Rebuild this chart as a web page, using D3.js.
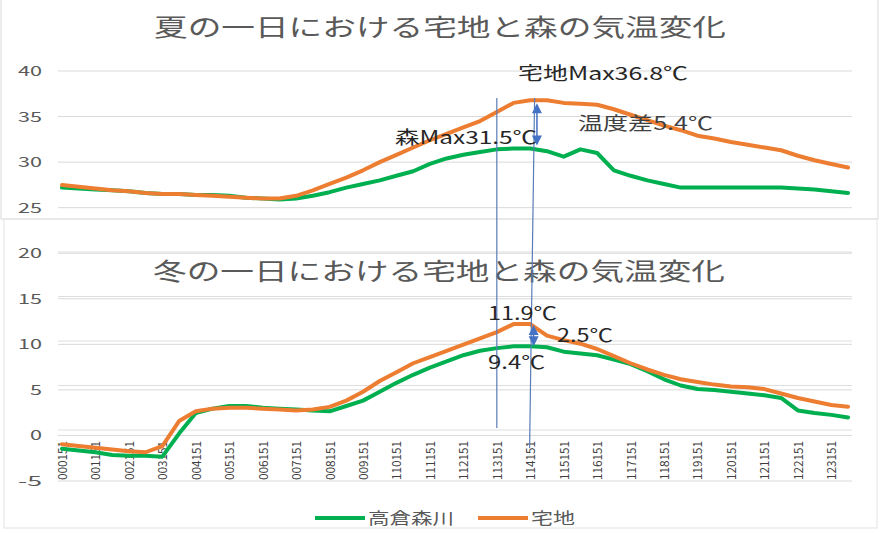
<!DOCTYPE html>
<html>
<head>
<meta charset="utf-8">
<script src="https://cdn.jsdelivr.net/npm/d3@7"></script>
<style>
  body { margin: 0; background: #fff; }
  svg { display: block; font-family: "Noto Sans CJK JP", "Noto Sans", sans-serif; }
</style>
</head>
<body>
<div id="viz"></div>
<script>
// half-hour steps through the day
const times = d3.range(0, 24, 0.5);

const summerForest = [27.2, 27.1, 27.0, 26.9, 26.8, 26.6, 26.5, 26.5, 26.4, 26.4, 26.3, 26.1,
  26.0, 25.9, 26.0, 26.3, 26.7, 27.2, 27.6, 28.0, 28.5, 29.0, 29.8, 30.4,
  30.8, 31.1, 31.4, 31.5, 31.5, 31.2, 30.6, 31.4, 31.0, 29.1, 28.5, 28.0,
  27.6, 27.2, 27.2, 27.2, 27.2, 27.2, 27.2, 27.2, 27.1, 27.0, 26.8, 26.6];

const summerHouse = [27.5, 27.3, 27.1, 26.9, 26.8, 26.6, 26.5, 26.5, 26.4, 26.3, 26.2, 26.1,
  26.0, 26.0, 26.3, 26.9, 27.6, 28.3, 29.1, 30.0, 30.8, 31.6, 32.4, 33.1,
  33.8, 34.5, 35.5, 36.5, 36.8, 36.8, 36.5, 36.4, 36.3, 35.8, 35.2, 34.6,
  34.0, 33.5, 32.9, 32.6, 32.2, 31.9, 31.6, 31.3, 30.7, 30.2, 29.8, 29.4];

const winterForest = [-2.1, -2.3, -2.5, -2.8, -2.9, -2.9, -3.0, -0.4, 1.9, 2.4, 2.7, 2.7,
  2.5, 2.4, 2.3, 2.2, 2.1, 2.7, 3.3, 4.3, 5.3, 6.2, 7.0, 7.7,
  8.4, 8.9, 9.2, 9.4, 9.4, 9.3, 8.8, 8.6, 8.4, 7.9, 7.4, 6.6,
  5.7, 5.0, 4.6, 4.5, 4.3, 4.1, 3.9, 3.6, 2.2, 1.9, 1.7, 1.4];

const winterHouse = [-1.6, -1.8, -2.0, -2.2, -2.4, -2.5, -1.8, 1.0, 2.1, 2.4, 2.5, 2.5,
  2.4, 2.3, 2.2, 2.3, 2.6, 3.3, 4.3, 5.5, 6.5, 7.5, 8.2, 8.9,
  9.6, 10.3, 11.0, 11.9, 11.9, 10.6, 10.1, 9.7, 9.1, 8.3, 7.5, 6.8,
  6.2, 5.7, 5.4, 5.1, 4.9, 4.8, 4.6, 4.1, 3.6, 3.2, 2.8, 2.6];

const hourTicks = d3.range(24);
const tickLabels = ["000151", "001151", "002151", "003151", "004151", "005151", "006151", "007151",
  "008151", "009151", "110151", "111151", "112151", "113151", "114151", "115151",
  "116151", "117151", "118151", "119151", "120151", "121151", "122151", "123151"];

const summerTicks = [40, 35, 30, 25, 20, 15, 10, 5, 0, -5];
const winterTicks = [20, 15, 10, 5, 0];

const seriesNames = ["高倉森川", "宅地"];
const colors = ["#00b050", "#ed7d31"];

const width = 880, height = 533;

const svg = d3.select("#viz").append("svg")
  .attr("width", width)
  .attr("height", height)
  .style("background-color", "#fff");

const x = d3.scaleLinear().domain([0, 23.5]).range([62, 848]);
const ySum = d3.scaleLinear().domain([-5, 40]).range([481, 71]);
const yWin = d3.scaleLinear().domain([0, 20]).range([430, 252]);

// chart frames (two excel charts stacked on top of each other)
svg.append("rect")
  .attr("x", 1).attr("y", -2).attr("width", 877).attr("height", 221)
  .attr("fill", "none").attr("stroke", "#d9d9d9");
svg.append("rect")
  .attr("x", 4).attr("y", 219).attr("width", 873).attr("height", 309)
  .attr("fill", "none").attr("stroke", "#e3e3e3");

// gridlines
svg.append("g")
  .selectAll("line")
  .data(summerTicks)
  .join("line")
  .attr("x1", 58).attr("x2", 852)
  .attr("y1", d => ySum(d)).attr("y2", d => ySum(d))
  .attr("stroke", "#d9d9d9");

svg.append("g")
  .selectAll("line")
  .data(winterTicks)
  .join("line")
  .attr("x1", 58).attr("x2", 852)
  .attr("y1", d => yWin(d)).attr("y2", d => yWin(d))
  .attr("stroke", "#dedede");

// y labels
svg.append("g")
  .selectAll("text")
  .data(summerTicks)
  .join("text")
  .text(d => d)
  .attr("x", 42)
  .attr("y", d => ySum(d) + 5)
  .attr("text-anchor", "end")
  .attr("font-size", "14px")
  .attr("textLength", d => String(d).length * 12).attr("lengthAdjust", "spacingAndGlyphs")
  .attr("fill", "#595959");

// titles
svg.append("text")
  .attr("x", 154).attr("y", 36)
  .attr("font-size", "24px")
  .attr("textLength", 572).attr("lengthAdjust", "spacingAndGlyphs")
  .attr("fill", "#595959")
  .text("夏の一日における宅地と森の気温変化");

svg.append("text")
  .attr("x", 153).attr("y", 280)
  .attr("font-size", "24px")
  .attr("textLength", 572).attr("lengthAdjust", "spacingAndGlyphs")
  .attr("fill", "#595959")
  .text("冬の一日における宅地と森の気温変化");

// x labels (vertical)
svg.append("g")
  .selectAll("text")
  .data(hourTicks)
  .join("text")
  .text((d, i) => tickLabels[i])
  .attr("transform", d => `translate(${x(d) + 5}, 480) rotate(-90)`)
  .attr("font-size", "12px")
  .attr("textLength", 39).attr("lengthAdjust", "spacingAndGlyphs")
  .attr("fill", "#404040");

// lines
const lineSum = d3.line().x((d, i) => x(times[i])).y(d => ySum(d));
const lineWin = d3.line().x((d, i) => x(times[i])).y(d => yWin(d));

[[summerForest, lineSum, 0], [summerHouse, lineSum, 1],
 [winterForest, lineWin, 0], [winterHouse, lineWin, 1]].forEach(([data, gen, c]) => {
  svg.append("path")
    .datum(data)
    .attr("d", gen)
    .attr("fill", "none")
    .attr("stroke", colors[c])
    .attr("stroke-width", 4)
    .attr("stroke-linejoin", "round")
    .attr("stroke-linecap", "round");
});

// vertical guide lines
svg.append("line")
  .attr("x1", x(13)).attr("x2", x(13))
  .attr("y1", 98).attr("y2", 428)
  .attr("stroke", "#5a7cb8").attr("stroke-width", 1.2);
svg.append("line")
  .attr("x1", x(14.1) + 1).attr("x2", x(14.1) - 4)
  .attr("y1", 98).attr("y2", 448)
  .attr("stroke", "#5a7cb8").attr("stroke-width", 1.2);

// double arrows
function doubleArrow(ax, yTop, yBot) {
  const g = svg.append("g").attr("fill", "#4472c4").attr("stroke", "#4472c4");
  g.append("line")
    .attr("x1", ax).attr("x2", ax)
    .attr("y1", yTop + 6).attr("y2", yBot - 6)
    .attr("stroke-width", 1.5);
  g.append("path")
    .attr("d", `M${ax},${yTop} L${ax - 5},${yTop + 10} L${ax + 5},${yTop + 10} Z`)
    .attr("stroke", "none");
  g.append("path")
    .attr("d", `M${ax},${yBot} L${ax - 5},${yBot - 10} L${ax + 5},${yBot - 10} Z`)
    .attr("stroke", "none");
}
doubleArrow(x(14.2), ySum(36.8) + 3, ySum(31.5) - 3);
doubleArrow(x(14.1), yWin(11.9) + 1, yWin(9.4));

// annotations
const notes = [
  {t: "宅地Max36.8℃", x: 518, y: 80, w: 170, c: "#262626"},
  {t: "森Max31.5℃", x: 395, y: 144, w: 142, c: "#262626"},
  {t: "温度差5.4℃", x: 578, y: 130, w: 135, c: "#404040"},
  {t: "11.9℃", x: 488, y: 320, w: 69, c: "#262626"},
  {t: "2.5℃", x: 557, y: 342, w: 56, c: "#262626"},
  {t: "9.4℃", x: 488, y: 369, w: 57, c: "#262626"}
];
svg.append("g")
  .selectAll("text")
  .data(notes)
  .join("text")
  .text(d => d.t)
  .attr("x", d => d.x)
  .attr("y", d => d.y)
  .attr("font-size", "18px")
  .attr("textLength", d => d.w).attr("lengthAdjust", "spacingAndGlyphs")
  .attr("fill", d => d.c);

// legend
const legend = svg.append("g");
[[315, 368, 86], [478, 531, 44]].forEach(([lx, tx, tw], i) => {
  legend.append("line")
    .attr("x1", lx).attr("x2", lx + 50)
    .attr("y1", 518).attr("y2", 518)
    .attr("stroke", colors[i]).attr("stroke-width", 4);
  legend.append("text")
    .attr("x", tx).attr("y", 524)
    .attr("font-size", "16px")
    .attr("textLength", tw).attr("lengthAdjust", "spacingAndGlyphs")
    .attr("fill", "#595959")
    .text(seriesNames[i]);
});
</script>
</body>
</html>
